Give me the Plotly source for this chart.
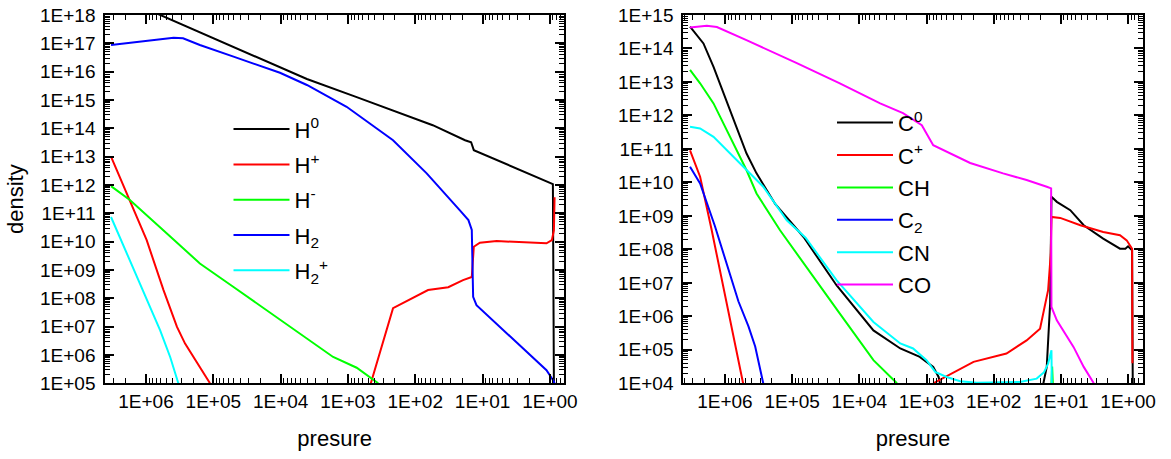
import plotly.graph_objects as go

# ---------------- data (log10 values) ----------------
# Left panel: hydrogen species, x = log10(pressure), y = log10(density)
H0_logp = [6.53, 5.79, 3.61, 2.87, 1.74, 1.26, 1.17, 1.13, -0.045, -0.06]
H0_logn = [18.77, 18.0, 15.74, 15.10, 14.11, 13.58, 13.51, 13.23, 12.03, 5.0]

Hp_logp = [6.52, 6.24, 5.99, 5.74, 5.54, 5.42, 5.05, None, 2.66, 2.33, 1.81, 1.51,
           1.29, 1.16, 1.13, 1.04, 0.79, 0.05, -0.03, -0.06, -0.07]
Hp_logn = [13.0, 11.47, 10.05, 8.29, 6.99, 6.40, 5.0, None, 5.0, 7.65, 8.29, 8.39,
           8.64, 8.75, 9.82, 9.96, 10.02, 9.94, 10.05, 10.40, 11.57]

Hm_logp = [6.52, 6.24, 5.69, 5.20, 4.70, 4.21, 3.71, 3.22, 2.87, 2.55]
Hm_logn = [11.96, 11.47, 10.29, 9.23, 8.40, 7.58, 6.76, 5.93, 5.55, 5.0]

H2_logp = [6.52, 6.09, 5.79, 5.59, 5.45, 5.20, 4.70, 4.01, 3.61, 3.02, 2.33, 1.83,
           1.34, 1.21, 1.16, 1.14, 1.09, 0.05, -0.05, -0.07]
H2_logn = [16.94, 17.06, 17.15, 17.20, 17.18, 16.94, 16.53, 15.96, 15.53, 14.76, 13.58, 12.41,
           11.11, 10.76, 10.41, 8.05, 7.76, 5.46, 5.10, 5.0]

H2p_logp = [6.52, 6.24, 5.99, 5.79, 5.64, 5.52]
H2p_logn = [10.87, 9.35, 8.0, 6.87, 5.92, 5.0]

# Right panel: carbon species
C0_logp = [6.52, 6.32, 6.17, 5.93, 5.68, 5.53, 5.25, 4.83, 4.34, 3.79, 3.39, 3.10, 2.90, 2.82, 2.80,
           None, 1.26, 1.21, 1.16, 1.14, 1.06, 0.86, 0.66, 0.37, 0.12, 0.04, 0.0, -0.06, -0.07]
C0_logn = [14.65, 14.15, 13.45, 12.16, 10.87, 10.27, 9.35, 8.37, 6.93, 5.58, 5.04, 4.79, 4.49, 4.19, 4.0,
           None, 4.0, 4.49, 6.38, 9.57, 9.42, 9.17, 8.72, 8.32, 8.02, 8.02, 8.09, 7.97, 4.0]

Cp_logp = [6.52, 6.37, 6.20, 5.73, None, 2.90, 2.50, 2.30, 1.81, 1.51, 1.31, 1.19, 1.15, 1.14,
           1.01, 0.71, 0.37, 0.12, 0.02, -0.06, -0.065]
Cp_logn = [10.96, 10.17, 8.6, 4.0, None, 4.0, 4.44, 4.64, 4.89, 5.28, 5.63, 6.78, 7.88, 8.97,
           8.94, 8.72, 8.52, 8.42, 8.27, 8.02, 4.6]

CH_logp = [6.52, 6.37, 6.17, 5.93, 5.68, 5.53, 5.28, 5.18, 4.29, 3.79, 3.44, None, 1.14, 1.13, 1.12]
CH_logn = [13.36, 12.96, 12.36, 11.36, 10.37, 9.67, 8.87, 8.57, 6.08, 4.69, 4.0, None, 4.0, 4.5, 4.0]

C2_logp = [6.52, 6.37, 6.15, 5.97, 5.80, 5.65, 5.55, 5.43]
C2_logn = [10.47, 9.97, 8.7, 7.58, 6.45, 5.7, 5.1, 4.0]

CN_logp = [6.52, 6.37, 6.17, 5.93, 5.68, 5.43, 5.08, 4.80, 4.34, 3.79, 3.39, 3.20, 3.0, 2.87,
           2.70, 2.50, 2.25, 1.61, 1.36, 1.25, 1.19, 1.14, 1.135]
CN_logn = [11.66, 11.61, 11.36, 10.87, 10.37, 9.87, 8.87, 8.35, 7.08, 5.83, 5.19, 5.04, 4.69, 4.34,
           4.19, 4.06, 4.02, 4.04, 4.14, 4.33, 4.59, 4.99, 4.0]

CO_logp = [6.52, 6.27, 6.12, 5.68, 4.93, 4.29, 3.84, 3.69, 3.35, 3.07, 2.90, 2.35, 1.86, 1.51,
           1.21, 1.145, 1.14, 1.06, 0.81, 0.66, 0.51]
CO_logn = [14.63, 14.68, 14.64, 14.25, 13.56, 12.96, 12.51, 12.36, 12.07, 11.71, 11.11, 10.58, 10.27, 10.07,
           9.87, 9.82, 6.28, 5.88, 5.08, 4.49, 4.0]

left_names = ["H<sup>0</sup>", "H<sup>+</sup>", "H<sup>-</sup>", "H<sub>2</sub>", "H<sub>2</sub><sup>+</sup>"]
right_names = ["C<sup>0</sup>", "C<sup>+</sup>", "CH", "C<sub>2</sub>", "CN", "CO"]

x_tick_exps = [6, 5, 4, 3, 2, 1, 0]
y1_tick_exps = list(range(5, 19))
y2_tick_exps = list(range(4, 16))

# ---------------- styling ----------------
FONT = "Liberation Sans, Arial, sans-serif"
FS = 19      # tick labels
FS_BIG = 22  # axis titles and legend
colors_left = ["#000000", "#ff0000", "#00ff00", "#0000ff", "#00ffff"]
colors_right = ["#000000", "#ff0000", "#00ff00", "#0000ff", "#00ffff", "#ff00ff"]


def tolin(vals):
    return [None if v is None else 10 ** v for v in vals]


def minor_vals(lo, hi):
    out = []
    for e in range(lo - 1, hi + 1):
        for m in range(2, 10):
            out.append(m * 10 ** e)
    return out


fig = go.Figure()

left_series = [(H0_logp, H0_logn), (Hp_logp, Hp_logn), (Hm_logp, Hm_logn),
               (H2_logp, H2_logn), (H2p_logp, H2p_logn)]
for i, ((lp, ln), name) in enumerate(zip(left_series, left_names)):
    fig.add_trace(go.Scatter(x=tolin(lp), y=tolin(ln), mode="lines", name=name,
                             line=dict(color=colors_left[i], width=2),
                             xaxis="x", yaxis="y", legend="legend",
                             legendgroup="L%d" % i, connectgaps=False))

right_series = [(C0_logp, C0_logn), (Cp_logp, Cp_logn), (CH_logp, CH_logn),
                (C2_logp, C2_logn), (CN_logp, CN_logn), (CO_logp, CO_logn)]
for i, ((lp, ln), name) in enumerate(zip(right_series, right_names)):
    fig.add_trace(go.Scatter(x=tolin(lp), y=tolin(ln), mode="lines", name=name,
                             line=dict(color=colors_right[i], width=2),
                             xaxis="x2", yaxis="y2", legend="legend2",
                             legendgroup="R%d" % i, connectgaps=False))

W, H = 1171, 459


def px_x(x):
    return x / W


def px_y(y):
    return 1 - y / H


ytop = px_y(15)
ybot = px_y(383.3)

common_axis = dict(
    showline=True, linecolor="black", linewidth=2, mirror="ticks",
    ticks="inside", ticklen=9, tickwidth=1.5, tickcolor="black",
    showgrid=False, zeroline=False, automargin=False,
    tickfont=dict(family=FONT, size=FS, color="black"),
)

xtickvals = [10 ** e for e in x_tick_exps]
xticktext = ["1E+%02d" % e for e in x_tick_exps]

xaxis_common = dict(common_axis, type="log", range=[6.605, -0.21],
                    tickmode="array", tickvals=xtickvals, ticktext=xticktext,
                    minor=dict(ticks="inside", ticklen=5, tickwidth=1, tickcolor="black",
                               tickmode="array", tickvals=minor_vals(-1, 7)),
                    title=dict(text="presure", font=dict(family=FONT, size=FS_BIG, color="black"),
                               standoff=20))

fig.update_layout(
    width=W, height=H,
    paper_bgcolor="white", plot_bgcolor="white",
    margin=dict(l=0, r=0, t=0, b=0),
    showlegend=True,
    xaxis=dict(xaxis_common, domain=[px_x(105.3), px_x(564)], anchor="y"),
    xaxis2=dict(xaxis_common, domain=[px_x(683.3), px_x(1142.7)], anchor="y2",
                range=[6.62, -0.218]),
    yaxis=dict(common_axis, type="log", range=[5, 18], domain=[ybot, ytop], anchor="x",
               tickmode="array", tickvals=[10 ** e for e in y1_tick_exps],
               ticktext=["1E+%02d" % e for e in y1_tick_exps], ticklabelstandoff=4,
               minor=dict(ticks="inside", ticklen=5, tickwidth=1, tickcolor="black",
                          tickmode="array", tickvals=minor_vals(5, 18)),
               title=dict(text="density", font=dict(family=FONT, size=FS_BIG, color="black"),
                          standoff=10)),
    yaxis2=dict(common_axis, type="log", range=[4, 15], domain=[ybot, ytop], anchor="x2",
                tickmode="array", tickvals=[10 ** e for e in y2_tick_exps],
                ticktext=["1E+%02d" % e for e in y2_tick_exps], ticklabelstandoff=4,
                minor=dict(ticks="inside", ticklen=5, tickwidth=1, tickcolor="black",
                           tickmode="array", tickvals=minor_vals(4, 15))),
    legend=dict(x=px_x(228.5), xanchor="left", y=px_y(108.3), yanchor="top",
                font=dict(family=FONT, size=FS_BIG, color="black"),
                bgcolor="rgba(0,0,0,0)", itemwidth=56, tracegroupgap=3.7),
    legend2=dict(x=px_x(832), xanchor="left", y=px_y(101.8), yanchor="top",
                 font=dict(family=FONT, size=FS_BIG, color="black"),
                 bgcolor="rgba(0,0,0,0)", itemwidth=56, tracegroupgap=0.8),
)

fig.write_html("out.html",
               config={"displayModeBar": False},
               post_script="document.body.style.margin='0px';document.body.style.overflow='hidden';")
